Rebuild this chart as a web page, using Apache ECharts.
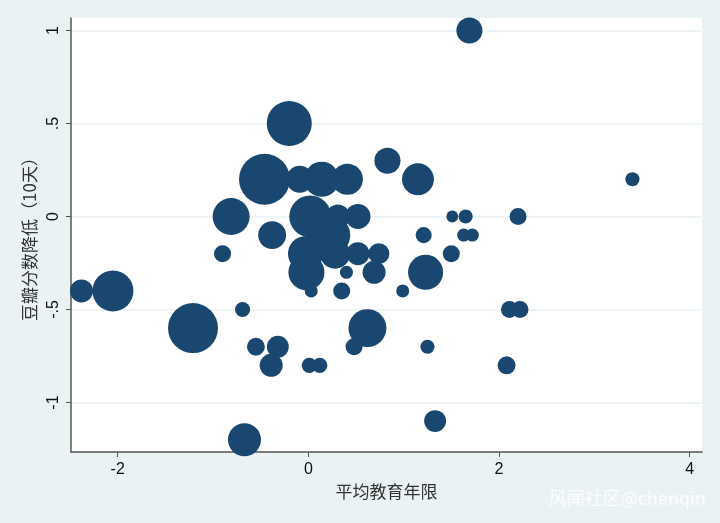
<!DOCTYPE html>
<html>
<head>
<meta charset="utf-8">
<script src="https://cdn.jsdelivr.net/npm/echarts@6/dist/echarts.min.js"></script>
<style>
  html, body { margin: 0; padding: 0; background: #eaf2f3; }
  #chart { width: 720px; height: 523px; }
</style>
</head>
<body>
<div id="chart"></div>
<script>
// average years of education (centered)
const eduYears = [
  1.69, -0.20, -0.46, -0.09, 0.14, 0.41, 0.83, 1.15, 3.40,
  -0.81, 0.02, 0.31, 0.52, 1.51, 1.65, 2.20,
  -0.38, 0.23, 1.21, 1.63, 1.72,
  -0.90, -0.03, 0.28, 0.52, 0.74, 1.50,
  -0.02, 0.40, 0.69, 1.23,
  -2.38, -2.05, 0.03, 0.35, 0.99,
  -0.69, 2.11, 2.22,
  -1.21, 0.62,
  -0.55, -0.32, 0.48, 1.25,
  -0.39, 0.01, 0.12, 2.08,
  1.33, -0.67
]
// drop in douban score (10 days)
const scoreDrop = [
  1.0, 0.5, 0.2, 0.2, 0.2, 0.2, 0.3, 0.2, 0.2,
  0, 0, 0, 0, 0, 0, 0,
  -0.1, -0.1, -0.1, -0.1, -0.1,
  -0.2, -0.2, -0.2, -0.2, -0.2, -0.2,
  -0.3, -0.3, -0.3, -0.3,
  -0.4, -0.4, -0.4, -0.4, -0.4,
  -0.5, -0.5, -0.5,
  -0.6, -0.6,
  -0.7, -0.7, -0.7, -0.7,
  -0.8, -0.8, -0.8, -0.8,
  -1.1, -1.2
]
// bubble weights
const weights = [
  6.8, 20.3, 26.0, 7.3, 12.3, 9.6, 6.8, 10.2, 2.0,
  13.7, 17.6, 5.8, 6.3, 1.4, 2.0, 2.9,
  7.8, 16.0, 2.6, 1.7, 1.7,
  2.9, 12.3, 9.0, 5.3, 4.4, 2.9,
  13.0, 1.7, 5.3, 12.3,
  5.3, 16.8, 1.7, 2.9, 1.7,
  2.3, 2.9, 2.9,
  25.0, 14.4,
  3.2, 4.8, 2.9, 2.0,
  5.3, 2.3, 2.3, 3.2,
  4.8, 10.9
]
const xTicks = [-2, 0, 2, 4]
const yTicks = [-1, -0.5, 0, 0.5, 1]
const yTickLabels = { '-1': '-1', '-0.5': '-.5', '0': '0', '0.5': '.5', '1': '1' }

const points = eduYears.map((x, i) => [x, scoreDrop[i], weights[i]])

const chart = echarts.init(document.getElementById('chart'))

const axisColor = '#555'
const labelFont = 'Liberation Sans, Arial, sans-serif'
const cjkFont = 'Noto Sans CJK SC'

chart.setOption({
  backgroundColor: '#eaf2f3',
  animation: false,
  grid: {
    left: 71, right: 18, top: 18, bottom: 71,
    show: true,
    backgroundColor: '#ffffff',
    borderWidth: 0
  },
  xAxis: {
    type: 'value',
    min: -2.49,
    max: 4.13,
    name: '平均教育年限',
    nameLocation: 'middle',
    nameGap: 28,
    nameTextStyle: { color: '#333', fontSize: 17, fontFamily: cjkFont },
    axisLine: { show: true, onZero: false, lineStyle: { color: axisColor, width: 1.5 } },
    axisTick: { show: true, length: 5, customValues: xTicks, lineStyle: { color: axisColor } },
    axisLabel: {
      customValues: xTicks,
      color: '#111',
      fontSize: 16,
      fontFamily: labelFont,
      margin: 10
    },
    splitLine: { show: false }
  },
  yAxis: {
    type: 'value',
    min: -1.266,
    max: 1.067,
    name: '豆瓣分数降低（10天）',
    nameLocation: 'middle',
    nameGap: 32,
    nameTextStyle: { color: '#333', fontSize: 17, fontFamily: cjkFont },
    axisLine: { show: true, onZero: false, lineStyle: { color: axisColor, width: 1.5 } },
    axisTick: { show: true, length: 5, customValues: yTicks, lineStyle: { color: axisColor } },
    axisLabel: {
      customValues: yTicks,
      rotate: 90,
      color: '#111',
      fontSize: 16,
      fontFamily: labelFont,
      margin: 9,
      formatter: v => yTickLabels[String(v)] ?? String(v)
    },
    splitLine: { show: true, lineStyle: { color: '#eaf2f3', width: 1.5 } }
  },
  series: [{
    type: 'scatter',
    data: points,
    symbolSize: d => 10 * Math.sqrt(d[2]),
    itemStyle: { color: '#1a476f', opacity: 1 }
  }],
  graphic: [{
    type: 'text',
    right: 14,
    bottom: 16,
    style: {
      text: '风闻社区@chenqin',
      fill: 'rgba(255,255,255,0.85)',
      fontSize: 18,
      fontFamily: cjkFont
    }
  }]
})
</script>
</body>
</html>
